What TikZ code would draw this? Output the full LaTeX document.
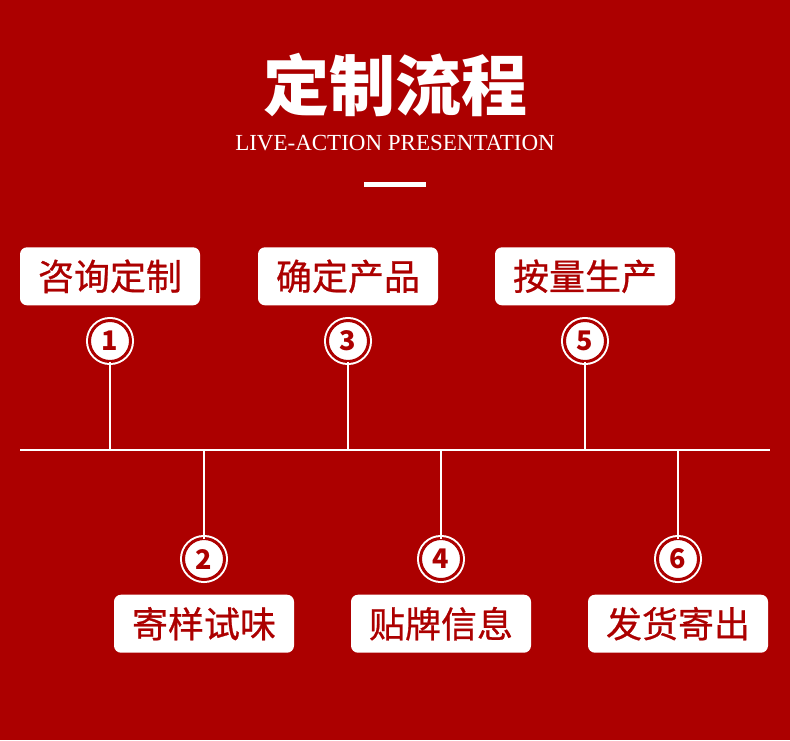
\documentclass[tikz,border=0pt]{standalone}
\usepackage{fontspec}
\setmainfont{Liberation Serif}
\newfontfamily\cjkfont{Noto Sans CJK SC}
\newfontfamily\cjkmid[FakeBold=0.7]{Noto Sans CJK SC}
\usepackage{tikz}
\usetikzlibrary{positioning}
\definecolor{bgred}{HTML}{AC0000}

\begin{document}
\begin{tikzpicture}[
  x=1pt, y=-1pt,
  stepbox/.style={
    fill=white, rounded corners=7pt, minimum width=180pt, minimum height=58pt,
    inner sep=0pt, text=bgred, font=\cjkmid\fontsize{36}{36}\selectfont,
  },
  numdot/.style={
    circle, fill=white, draw=white, line width=2pt, double=bgred, double distance=3pt,
    minimum size=41pt, inner sep=0pt, outer sep=0pt, text=bgred,
    font=\cjkfont\bfseries\fontsize{27}{27}\selectfont,
  },
  tline/.style={draw=white, line width=2pt},
]

% background
\fill[bgred] (0,0) rectangle (790,740);
\useasboundingbox (0,0) rectangle (790,740);

% heading
\node[text=white, font=\cjkfont\bfseries\fontsize{66}{66}\selectfont] (title) at (395,85) {定制流程};
\node[text=white, font=\fontsize{23}{23}\selectfont] (subtitle) at (395,143) {LIVE-ACTION PRESENTATION};
\node[fill=white, minimum width=62pt, minimum height=5pt, inner sep=0pt] (bar) at (395,184) {};

% time line
\coordinate (axisleft) at (20,450);
\coordinate (axisright) at (770,450);
\draw[tline] (axisleft) -- (axisright);

% upper steps
\node[numdot] (n1) at (110,341) {1};
\node[numdot] (n3) at (348,341) {3};
\node[numdot] (n5) at (585,341) {5};
\node[stepbox, above=15pt of n1] (s1) {咨询定制};
\node[stepbox, above=15pt of n3] (s3) {确定产品};
\node[stepbox, above=15pt of n5] (s5) {按量生产};

% lower steps
\node[numdot] (n2) at (204,559) {2};
\node[numdot] (n4) at (441,559) {4};
\node[numdot] (n6) at (678,559) {6};
\node[stepbox, below=15pt of n2] (s2) {寄样试味};
\node[stepbox, below=15pt of n4] (s4) {贴牌信息};
\node[stepbox, below=15pt of n6] (s6) {发货寄出};

% stems
\draw[tline] (n1.south) -- (n1 |- axisleft);
\draw[tline] (n3.south) -- (n3 |- axisleft);
\draw[tline] (n5.south) -- (n5 |- axisleft);
\draw[tline] (n2.north) -- (n2 |- axisleft);
\draw[tline] (n4.north) -- (n4 |- axisleft);
\draw[tline] (n6.north) -- (n6 |- axisleft);

\end{tikzpicture}
\end{document}
